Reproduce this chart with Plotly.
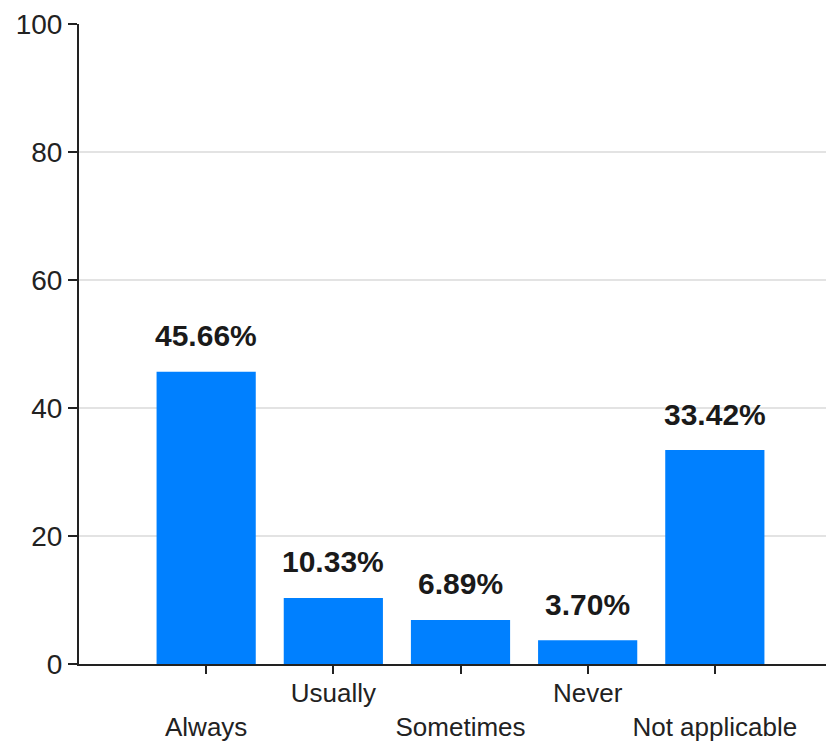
import plotly.graph_objects as go

categories = ["Always", "Usually", "Sometimes", "Never", "Not applicable"]
tick_labels = ["<br>Always", "Usually", "<br>Sometimes", "Never", "<br>Not applicable"]
values = [45.66, 10.33, 6.89, 3.70, 33.42]
y_ticks = [0, 20, 40, 60, 80, 100]

FONT = "Liberation Sans, Arial, sans-serif"
fig = go.Figure()
fig.add_trace(go.Bar(
    x=categories, y=values,
    marker=dict(color="#0080FF", line=dict(width=0)),
    width=0.78,
    hoverinfo="skip",
))
for c, v in zip(categories, values):
    fig.add_annotation(x=c, y=v, text=f"<b>{v:.2f}%</b>", showarrow=False,
                       yanchor="middle", yshift=36,
                       font=dict(family=FONT, size=30, color="#1a1a1a"))

# page body adds an 8px offset, so margins are shifted accordingly
fig.update_layout(
    width=834, height=743,
    margin=dict(l=71, r=0, t=16, b=87),
    plot_bgcolor="white", paper_bgcolor="white",
    showlegend=False,
    font=dict(family=FONT, color="#222"),
)
fig.update_xaxes(
    type="category", range=[-1, 5.0], automargin=False,
    tickmode="array", tickvals=categories, ticktext=tick_labels,
    showline=True, linecolor="#222", linewidth=2,
    ticks="outside", ticklen=8, tickwidth=2, tickcolor="#222",
    ticklabelstandoff=-3,
    showgrid=False, zeroline=False,
    tickfont=dict(family=FONT, size=26, color="#222"),
)
fig.update_yaxes(
    range=[0, 100], tickvals=y_ticks, automargin=False,
    showline=True, linecolor="#222", linewidth=2,
    ticks="outside", ticklen=9, tickwidth=2, tickcolor="#222",
    showgrid=True, gridcolor="#e3e3e3", gridwidth=2,
    zeroline=False,
    tickfont=dict(family=FONT, size=28, color="#222"),
)
fig.write_html("out.html")
